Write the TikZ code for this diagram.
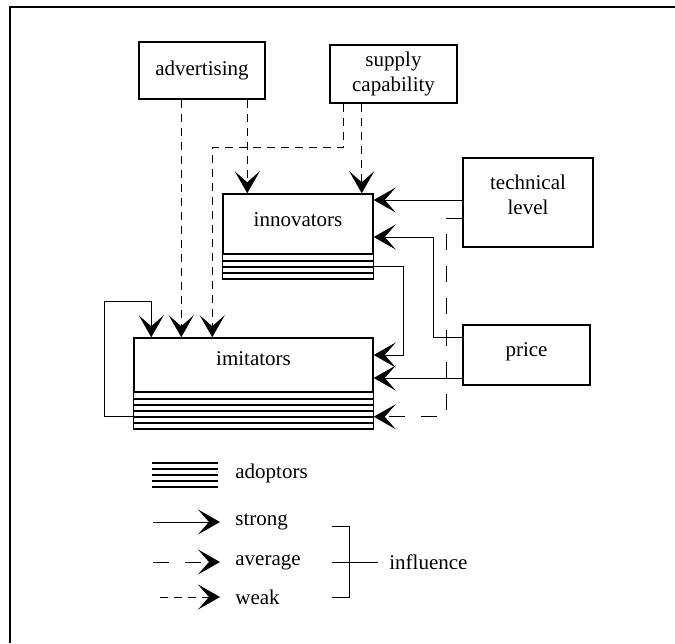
\documentclass[tikz,border=0pt]{standalone}
\usepackage{fontspec}
\setmainfont{Liberation Serif}
\usetikzlibrary{arrows.meta,positioning}

\begin{document}
\begin{tikzpicture}[
    x=0.5pt, y=-0.5pt,
    font=\fontsize{10.5}{12.6}\selectfont,
    box/.style={rectangle,draw,line width=0.75pt,inner sep=0pt,align=center},
    arr/.style={-{Stealth[length=11pt,width=12.5pt,inset=5.5pt]},line width=0.5pt},
    strongarr/.style={arr},
    avgarr/.style={arr,dash pattern=on 8pt off 8pt},
    weakarr/.style={arr,dash pattern=on 4pt off 3pt},
    stripe/.style={line width=1pt},
    legtext/.style={inner sep=0pt}
]
\useasboundingbox (0,0) rectangle (675,643);
\draw[line width=1pt] (10,643) |- (675,7);

% boxes
\node[box,minimum width=63pt,minimum height=28.5pt] (adv) at (202,70.5) {advertising};
\node[box,minimum width=63.5pt,minimum height=29pt] (supply) at (393.5,74) {supply\\capability};
\node[box,minimum width=65pt,minimum height=44.5pt,text depth=8pt] (tech) at (528,202.5) {technical\\level};
\node[box,minimum width=63.5pt,minimum height=30pt,text depth=5pt] (price) at (526.5,355) {price};
\node[box,minimum width=75pt,minimum height=30pt,text depth=4pt] (innov) at (298,224) {innovators};
\node[box,minimum width=119.5pt,minimum height=27pt,text depth=6pt] (imit) at (253.5,365) {imitators};

% adoptors under the boxes
\foreach \k in {1,...,4}
  \draw[stripe] ([yshift=-3pt*\k]innov.south west) -- ([yshift=-3pt*\k]innov.south east);
\draw[line width=0.5pt] (innov.south west) -- ++(0,24);
\draw[line width=0.5pt] (innov.south east) -- ++(0,24);
\foreach \k in {1,...,6}
  \draw[stripe] ([yshift=-3pt*\k]imit.south west) -- ([yshift=-3pt*\k]imit.south east);
\draw[line width=0.5pt] (imit.south west) -- ++(0,36);
\draw[line width=0.5pt] (imit.south east) -- ++(0,36);

% arrow entry points
\coordinate (inA) at ([xshift=12.5pt]innov.north west);
\coordinate (inB) at ([xshift=-6pt]innov.north east);
\coordinate (imA) at ([xshift=9pt]imit.north west);
\coordinate (imB) at ([xshift=24pt]imit.north west);
\coordinate (imC) at ([xshift=39.5pt]imit.north west);
\coordinate (imD) at ([yshift=-12pt]imit.south east);

% influences
\draw[weakarr] (adv.south -| inA) -- (inA);
\draw[weakarr] (adv.south -| imB) -- (imB);
\draw[weakarr] (supply.south -| inB) -- (inB);
\draw[weakarr] ([xshift=-25.25pt]supply.south) -- ++(0,44) -| (imC);
\draw[strongarr] ([yshift=12pt]innov.east -| tech.west) -- ([yshift=12pt]innov.east);
\draw[avgarr] ([yshift=-7.75pt]tech.west) -- ++(-16,0) |- (imD);
\draw[strongarr] ([yshift=9pt]price.west) -- ++(-29,0) |- ([yshift=-6.5pt]innov.east);
\draw[strongarr] ([yshift=-6.5pt]imit.east -| price.west) -- ([yshift=-6.5pt]imit.east);
\draw[strongarr] ([yshift=-6pt]innov.south east) -- ++(30,0) |- ([yshift=5pt]imit.east);
\draw[strongarr] ([yshift=-12pt]imit.south west) -- ++(-29,0) |- ([yshift=18pt]imA) -- (imA);

% legend
\coordinate (legA) at (152,463);
\foreach \k in {0,...,4}
  \draw[stripe] ([yshift=-3pt*\k]legA) -- ++(66,0);
\node[legtext,anchor=west] (adoptors) at (235,473) {adoptors};

\coordinate (strongS) at (153,522);
\draw[strongarr] (strongS) -- ++(67,0) coordinate (strongE);
\node[legtext,right=7.5pt of strongE] (strongT) {strong};
\coordinate (avgS) at (153,562);
\draw[avgarr] (avgS) -- ++(67,0) coordinate (avgE);
\node[legtext,right=7.5pt of avgE] (avgT) {average};
\coordinate (weakS) at (160,597);
\draw[weakarr] (weakS) -- ++(60,0) coordinate (weakE);
\node[legtext,right=7.5pt of weakE] (weakT) {weak};

\draw[line width=0.5pt] (332,526) -| (349,597) -- (332,597);
\draw[line width=0.5pt] (332,562) -- (378,562) coordinate (inflS);
\node[legtext,right=5.5pt of inflS] (influence) {influence};
\end{tikzpicture}
\end{document}
